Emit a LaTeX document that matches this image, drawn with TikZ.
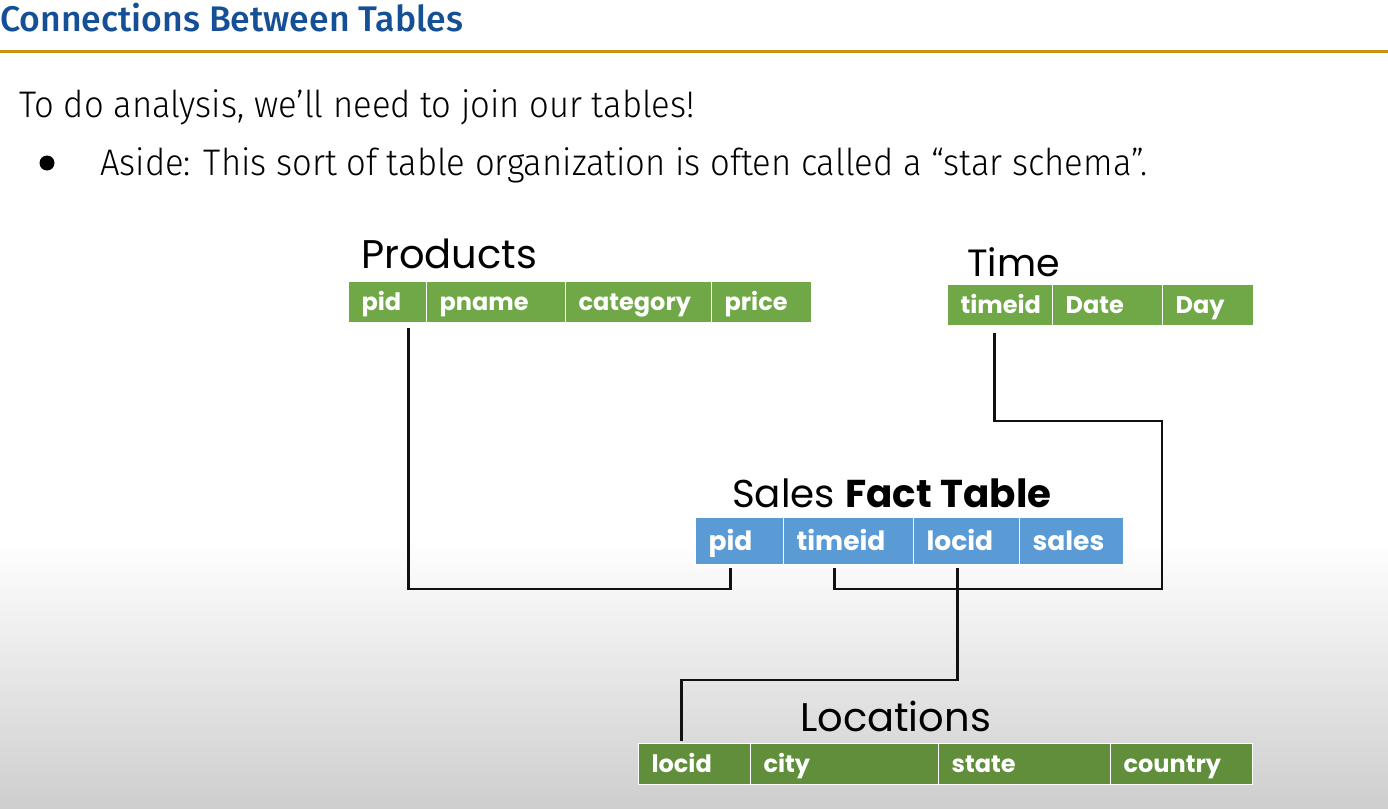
\documentclass[tikz,border=0pt]{standalone}
\usepackage{fontspec}
\setmainfont{Fira Sans}[UprightFont={* Light},BoldFont={* Medium}]
\newfontfamily\bodyfont{Fira Sans}[UprightFont={* Light},FakeStretch=0.935]
\newfontfamily\gothic{Poppins}
\definecolor{titleblue}{RGB}{21,80,150}
\definecolor{gold}{RGB}{200,145,15}
\definecolor{tgreen}{RGB}{112,168,72}
\definecolor{lgreen}{RGB}{96,142,58}
\definecolor{sblue}{RGB}{91,155,213}
\definecolor{bggray}{RGB}{206,206,206}
\definecolor{ink}{RGB}{17,17,17}
\tikzset{
  cell/.style={draw=white, line width=1.2pt, anchor=north west, text=white,
    inner xsep=13pt, inner ysep=0pt, align=left, text height=20pt, text depth=3pt,
    font=\gothic\bfseries\fontsize{24}{24}\selectfont},
  scell/.style={cell, fill=sblue, minimum height=47pt, text height=22.5pt, text depth=3.5pt,
    font=\gothic\bfseries\fontsize{26.5}{26.5}\selectfont},
  pcell/.style={cell, fill=tgreen, minimum height=41pt},
  lcell/.style={cell, fill=lgreen, minimum height=41pt},
  heading/.style={anchor=base west, inner sep=0pt, text=black,
    font=\gothic\fontsize{40}{40}\selectfont},
  bodytext/.style={anchor=base west, inner sep=0pt, text=black,
    font=\bodyfont\fontsize{37}{37}\selectfont},
  conn/.style={draw=ink, line width=2.8pt}
}
\begin{document}
\begin{tikzpicture}[x=1pt,y=-1pt]
\useasboundingbox (0,0) rectangle (1388,808);
\fill[white] (0,0) rectangle (1388,808);
\shade[top color=white, bottom color=bggray] (0,540) rectangle (1388,808);
\fill[gold] (0,50.5) rectangle (1388,53.5);

\node[anchor=base west, inner sep=0pt, text=titleblue,
  font=\bfseries\fontsize{35.6}{36}\selectfont] (title) at (0,32) {Connections Between Tables};
\node[bodytext] (line1) at (19,117) {To do analysis, we’ll need to join our tables!};
\node[circle, fill=black, minimum size=15pt, inner sep=0pt] (bullet) at (47,163) {};
\node[bodytext] (line2) at (100,175) {Aside: This sort of table organization is often called a “star schema”.};

% Products
\node[heading] (ph) at (361,268) {Products};
\node[pcell, text width=52pt] (p1) at (348,281) {pid};
\node[pcell, text width=113pt] (p2) at (426,281) {pname};
\node[pcell, text width=120pt] (p3) at (565,281) {category};
\node[pcell, text width=74pt] (p4) at (711,281) {price};

% Time
\node[heading, font=\gothic\fontsize{38}{38}\selectfont] (th) at (967,276) {Time};
\node[pcell, text width=79pt] (t1) at (947,284) {timeid};
\node[pcell, text width=84pt] (t2) at (1052,284) {Date};
\node[pcell, text width=65pt] (t3) at (1162,284) {Day};

% Sales
\node[heading, font=\gothic\fontsize{38.8}{39}\selectfont] (sh) at (732,507) {Sales \textbf{Fact Table}};
\node[scell, text width=62pt] (s1) at (695,517) {pid};
\node[scell, text width=104pt] (s2) at (783,517) {timeid};
\node[scell, text width=80pt] (s3) at (913,517) {locid};
\node[scell, text width=78pt] (s4) at (1019,517) {sales};

% Locations
\node[heading] (lh) at (800,731) {Locations};
\node[lcell, text width=86pt] (l1) at (638,743) {locid};
\node[lcell, text width=162pt] (l2) at (750,743) {city};
\node[lcell, text width=146pt] (l3) at (938,743) {state};
\node[lcell, text width=116pt] (l4) at (1110,743) {country};

% connectors
\coordinate (b1) at (0,589);
\coordinate (b2) at (0,680);
\coordinate (tb) at (1162,421);
\coordinate (pa) at ([xshift=21pt,yshift=-5pt]p1.south);
\coordinate (sa) at ([xshift=-9pt,yshift=-3pt]s1.south);
\coordinate (ta) at ([xshift=-5.5pt,yshift=-7pt]t1.south);
\coordinate (sb) at ([xshift=-14pt,yshift=-3pt]s2.south);
\coordinate (sc) at ([xshift=-9pt,yshift=-3pt]s3.south);
\coordinate (la) at ([xshift=-13pt,yshift=2pt]l1.north);
\draw[conn] (pa) -- (pa |- b1) -- (sa |- b1) -- (sa);
\draw[conn] (ta) -- (ta |- tb) -- (tb) -- (tb |- b1) -- (sb |- b1) -- (sb);
\draw[conn] (sc) -- (sc |- b2) -- (la |- b2) -- (la);
\end{tikzpicture}
\end{document}
